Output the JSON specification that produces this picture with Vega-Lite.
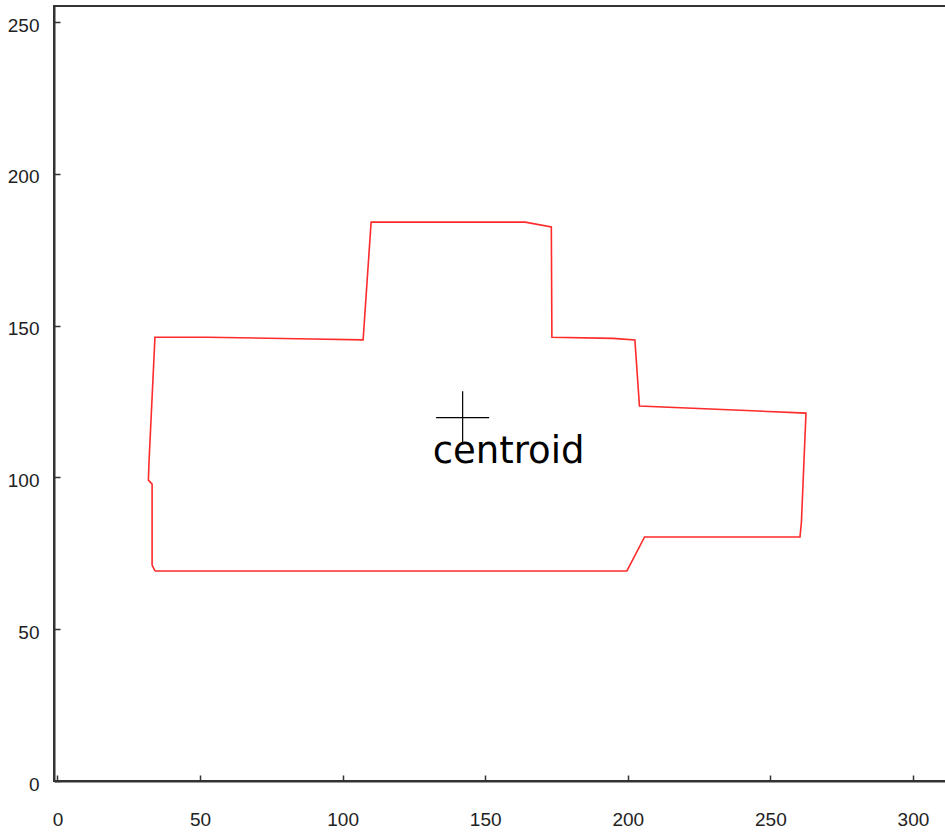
{
  "$schema": "https://vega.github.io/schema/vega-lite/v6.json",
  "width": 892,
  "height": 775,
  "autosize": {"type": "none"},
  "padding": {"left": 54, "top": 6, "right": 0, "bottom": 53},
  "background": "white",
  "config": {
    "view": {"stroke": "#333333", "strokeWidth": 2},
    "axis": {
      "grid": false,
      "domainColor": "#333333",
      "domainWidth": 2,
      "tickColor": "#333333",
      "tickWidth": 1.5,
      "tickSize": -6,
      "labelFont": "Liberation Sans",
      "labelFontSize": 19,
      "labelColor": "#222222",
      "title": null
    }
  },
  "datasets": {
    "outline": [
      {"i": 1, "x": 34.2, "y": 69.2},
      {"i": 2, "x": 33.2, "y": 71.1},
      {"i": 3, "x": 33.2, "y": 97.8},
      {"i": 4, "x": 31.9, "y": 99.1},
      {"i": 5, "x": 32.1, "y": 104.7},
      {"i": 6, "x": 34.2, "y": 146.2},
      {"i": 7, "x": 52.5, "y": 146.2},
      {"i": 8, "x": 89.3, "y": 145.6},
      {"i": 9, "x": 107.2, "y": 145.3},
      {"i": 10, "x": 110.0, "y": 184.1},
      {"i": 11, "x": 164.0, "y": 184.1},
      {"i": 12, "x": 173.2, "y": 182.5},
      {"i": 13, "x": 173.4, "y": 146.2},
      {"i": 14, "x": 194.8, "y": 145.8},
      {"i": 15, "x": 202.5, "y": 145.3},
      {"i": 16, "x": 204.1, "y": 123.5},
      {"i": 17, "x": 262.5, "y": 121.2},
      {"i": 18, "x": 260.9, "y": 85.3},
      {"i": 19, "x": 260.4, "y": 80.4},
      {"i": 20, "x": 205.9, "y": 80.4},
      {"i": 21, "x": 199.7, "y": 69.2},
      {"i": 22, "x": 34.2, "y": 69.2}
    ],
    "centroid": [
      {"x": 142.1, "y": 119.7, "label": "centroid"}
    ]
  },
  "layer": [
    {
      "data": {"name": "outline"},
      "mark": {"type": "line", "color": "#ff2a2a", "strokeWidth": 1.6, "clip": true},
      "encoding": {
        "x": {
          "field": "x",
          "type": "quantitative",
          "scale": {"domain": [-1.2, 311.6], "nice": false, "zero": false},
          "axis": {"values": [0, 50, 100, 150, 200, 250, 300], "labelPadding": 35, "labelBaseline": "top"}
        },
        "y": {
          "field": "y",
          "type": "quantitative",
          "scale": {"domain": [0, 255.3], "nice": false, "zero": false},
          "axis": {"values": [0, 50, 100, 150, 200, 250], "labelPadding": 21, "labelOffset": 3}
        },
        "order": {"field": "i", "type": "quantitative"}
      }
    },
    {
      "data": {"name": "centroid"},
      "mark": {
        "type": "point",
        "shape": "M-1,0H1M0,-1V1",
        "size": 2809,
        "filled": false,
        "stroke": "black",
        "strokeWidth": 1.2,
        "opacity": 1
      },
      "encoding": {
        "x": {"field": "x", "type": "quantitative"},
        "y": {"field": "y", "type": "quantitative"}
      }
    },
    {
      "data": {"name": "centroid"},
      "mark": {
        "type": "text",
        "font": "DejaVu Sans",
        "fontSize": 37,
        "color": "black",
        "align": "left",
        "baseline": "alphabetic",
        "dx": -30,
        "dy": 45
      },
      "encoding": {
        "x": {"field": "x", "type": "quantitative"},
        "y": {"field": "y", "type": "quantitative"},
        "text": {"field": "label"}
      }
    }
  ]
}
